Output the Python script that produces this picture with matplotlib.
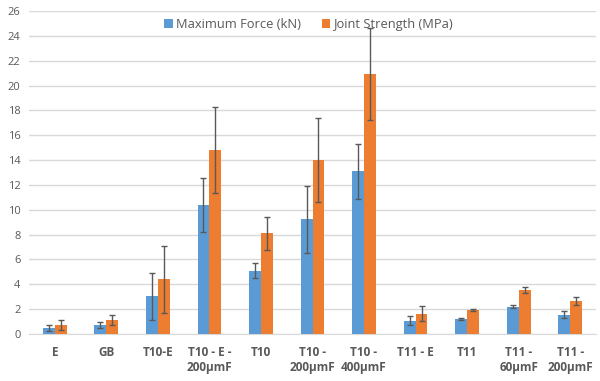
import matplotlib
matplotlib.use("Agg")
import matplotlib.pyplot as plt
import numpy as np

categories = ["E", "GB", "T10-E", "T10 - E -\n200µmF", "T10", "T10 -\n200µmF",
              "T10 -\n400µmF", "T11 - E", "T11", "T11 -\n60µmF", "T11 -\n200µmF"]
force = [0.48, 0.72, 3.05, 10.4, 5.1, 9.25, 13.1, 1.08, 1.2, 2.2, 1.55]
force_err = [0.25, 0.22, 1.9, 2.15, 0.63, 2.7, 2.2, 0.33, 0.1, 0.13, 0.3]
strength = [0.72, 1.13, 4.4, 14.8, 8.1, 14.0, 20.9, 1.65, 1.95, 3.55, 2.65]
strength_err = [0.42, 0.42, 2.7, 3.45, 1.3, 3.35, 3.7, 0.58, 0.07, 0.23, 0.33]
yticks = list(range(0, 27, 2))

plt.rcParams['font.family'] = ['Open Sans', 'DejaVu Sans']

fig = plt.figure(figsize=(6, 3.81), dpi=100)
ax = fig.add_axes([29/600, 1-334/381, 567/600, 323/381])

x = np.arange(len(categories))
w = 0.23
ekw = dict(ecolor="#595959", elinewidth=1, capsize=2.5, capthick=1)
ax.bar(x - w/2, force, w, yerr=force_err, color="#5B9BD5", label="Maximum Force (kN)",
       error_kw=ekw, zorder=3)
ax.bar(x + w/2, strength, w, yerr=strength_err, color="#ED7D31", label="Joint Strength (MPa)",
       error_kw=ekw, zorder=3)

ax.set_xlim(-0.5, len(categories) - 0.5)
ax.set_ylim(0, 26)
ax.set_yticks(yticks)
ax.yaxis.grid(True, color="#D9D9D9", linewidth=1, zorder=0)
ax.set_axisbelow(True)
for s in ["left", "right", "top"]:
    ax.spines[s].set_visible(False)
ax.spines["bottom"].set_color("#D9D9D9")
ax.tick_params(axis="both", length=0, colors="#595959")
ax.tick_params(axis="y", pad=6, labelsize=8)
ax.tick_params(axis="x", pad=9, labelsize=8.5)
ax.set_xticks(x)
ax.set_xticklabels(categories, fontweight="bold", linespacing=1.2)

leg = ax.legend(loc="upper center", bbox_to_anchor=(0.494, 1.015), ncol=2, frameon=False,
                fontsize=9.3, handlelength=0.65, handleheight=0.65, columnspacing=1.6,
                handletextpad=0.3, labelcolor="#595959")
fig.savefig("out.png", dpi=100, facecolor="white")
